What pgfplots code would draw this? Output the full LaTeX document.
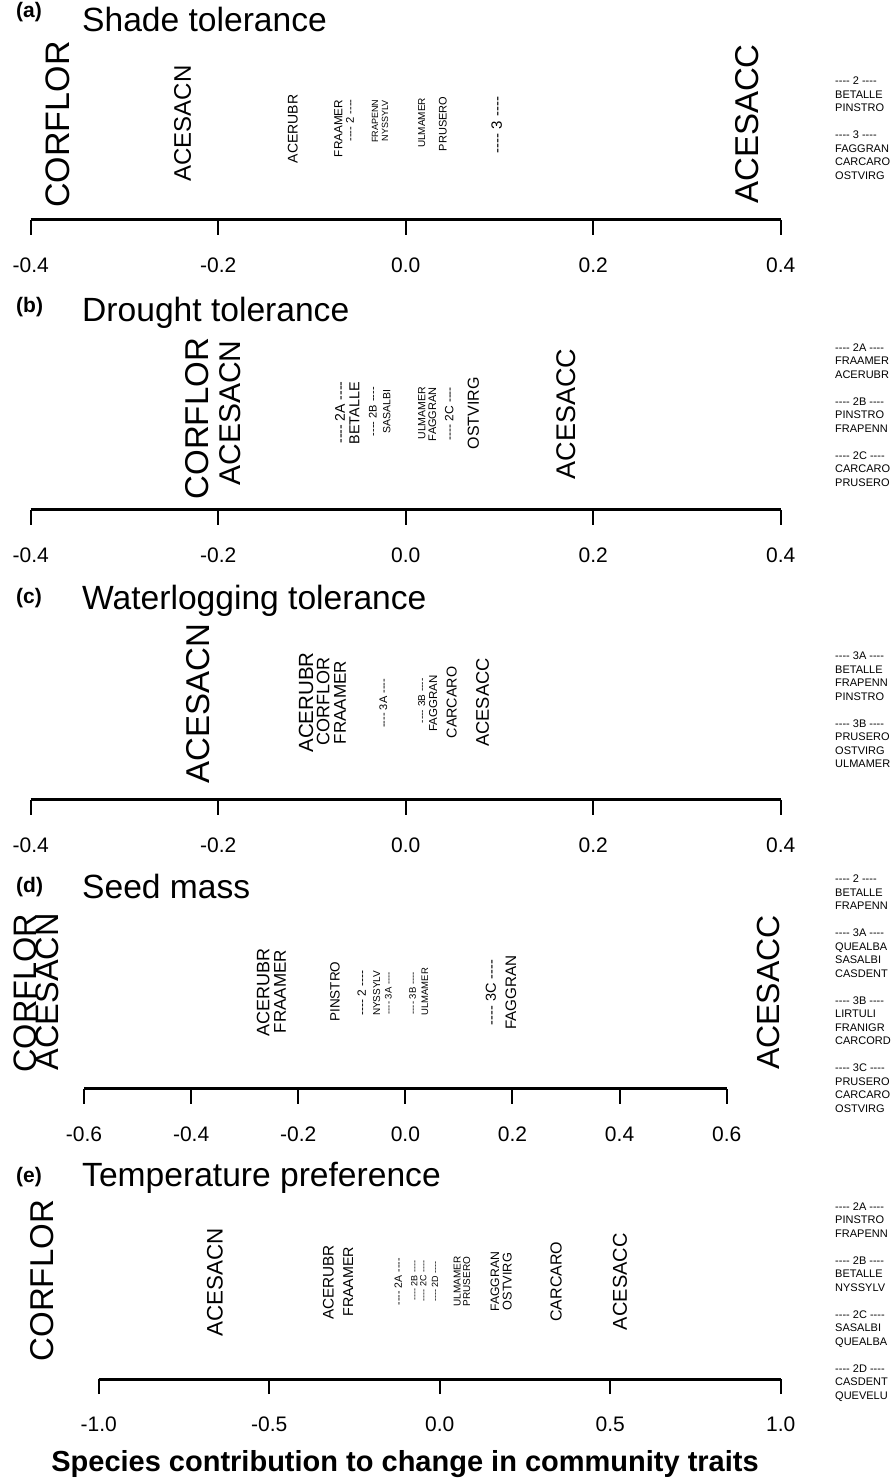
\documentclass[border=0pt]{standalone}
\usepackage{fontspec}
\setmainfont{Liberation Sans}
\usepackage{pgfplots}
\usepackage{pgfplotstable}
\pgfplotsset{compat=1.18}
\newcommand\dsh{-{}-{}-{}-}

% x = contribution, y = vertical centre (pt above axis line), fs = font size
\pgfplotstableread{
x y fs label
-0.3714 95.5 34 CORFLOR
-0.2380 96.5 24 ACESACN
-0.1205 91 14 ACERUBR
-0.0719 91.5 11.7 FRAAMER
-0.0594 99.5 11.2 \dsh~2~\dsh
-0.0327 98.5 9 FRAPENN
-0.0221 99 9 NYSSYLV
0.0171 97 10 ULMAMER
0.0395 96 11 PRUSERO
0.0971 95 15 \dsh~3~\dsh
0.3637 96 33 ACESACC
}\tabA

\pgfplotstableread{
x y fs label
-0.2229 91.3 33 CORFLOR
-0.1874 97 30 ACESACN
-0.0701 97.5 14 \dsh~2A~\dsh
-0.0548 96.7 14.4 BETALLE
-0.0352 98.3 11 \dsh~2B~\dsh
-0.0203 98.3 10.5 SASALBI
0.0171 96.7 10.5 ULMAMER
0.0284 95.8 11 FAGGRAN
0.0465 96 12 \dsh~2C~\dsh
0.0721 96.7 16 OSTVIRG
0.1717 95.8 27 ACESACC
}\tabB

\pgfplotstableread{
x y fs label
-0.2212 96.7 33 ACESACN
-0.1063 97.5 20.5 ACERUBR
-0.0879 98.3 18 CORFLOR
-0.0701 97.5 17 FRAAMER
-0.0239 96.7 11 \dsh~3A~\dsh
0.0171 99.2 10 \dsh~3B~\dsh
0.0294 96.7 11.5 FAGGRAN
0.0491 97.5 14.3 CARCARO
0.0821 97.5 18.3 ACESACC
}\tabC

\pgfplotstableread{
x y fs label
-0.7087 95.7 32.5 CORFLOR
-0.6682 97.3 32.5 ACESACN
-0.2653 96.5 18 ACERUBR
-0.2341 97.3 17 FRAAMER
-0.1314 97.3 13.5 PINSTRO
-0.0816 95.7 12 \dsh~2~\dsh
-0.0536 95.7 10 NYSSYLV
-0.0319 95.7 9.5 \dsh~3A~\dsh
0.0136 95.7 9.5 \dsh~3B~\dsh
0.0366 97.3 9.5 ULMAMER
0.1598 96.5 14.5 \dsh~3C~\dsh
0.1972 96.5 15.2 FAGGRAN
0.6776 96.5 32 ACESACC
}\tabD

\pgfplotstableread{
x y fs label
-1.1672 98.2 33 CORFLOR
-0.6590 96.5 22.4 ACESACN
-0.3267 96.5 15.3 ACERUBR
-0.2680 97.3 14.3 FRAAMER
-0.1214 97.3 10.5 \dsh~2A~\dsh
-0.0745 98.2 9 \dsh~2B~\dsh
-0.0481 98 9 \dsh~2C~\dsh
-0.0138 97.5 9 \dsh~2D~\dsh
0.0516 97.3 10 ULMAMER
0.0792 97.5 10 PRUSERO
0.1622 97.3 12.2 FAGGRAN
0.1982 97.3 12.7 OSTVIRG
0.3411 97.3 16 CARCARO
0.5287 97.3 20 ACESACC
}\tabE

\pgfplotsset{
  panel/.style={
    scale only axis, height=190pt, ymin=0, ymax=190,
    clip=false, anchor=south west,
    axis x line*=bottom, axis y line=none,
    x axis line style={line width=3pt, -},
    tick align=outside, major tick length=15pt,
    xtick style={line width=2pt, black},
    scaled x ticks=false,
    xticklabel style={font=\fontsize{21}{25}\selectfont, anchor=center, yshift=-30pt,
      /pgf/number format/fixed, /pgf/number format/fixed zerofill,
      /pgf/number format/precision=1, /pgf/number format/assume math mode=true},
  },
  lbl/.style={only marks, mark=none, black, nodes near coords,
    point meta=explicit symbolic,
    visualization depends on={\thisrow{fs}\as\fs},
    every node near coord/.append style={scale=\fs/10,
      rotate=90, anchor=center, inner sep=0pt, black},
  },
}

\begin{document}
\begin{tikzpicture}[x=1pt,y=1pt]
\path[use as bounding box] (0,0) rectangle (893,1479);

% (a)
\begin{axis}[panel, at={(30.7pt,1259pt)}, width=750pt,
  xmin=-0.4, xmax=0.4, xtick={-0.4,-0.2,0,0.2,0.4}]
\addplot[lbl] table[x=x, y=y, meta=label]{\tabA};
\end{axis}
% (b)
\begin{axis}[panel, at={(30.7pt,969pt)}, width=750pt,
  xmin=-0.4, xmax=0.4, xtick={-0.4,-0.2,0,0.2,0.4}]
\addplot[lbl] table[x=x, y=y, meta=label]{\tabB};
\end{axis}
% (c)
\begin{axis}[panel, at={(30.7pt,679pt)}, width=750pt,
  xmin=-0.4, xmax=0.4, xtick={-0.4,-0.2,0,0.2,0.4}]
\addplot[lbl] table[x=x, y=y, meta=label]{\tabC};
\end{axis}
% (d)
\begin{axis}[panel, at={(84pt,390pt)}, width=642.7pt,
  xmin=-0.6, xmax=0.6, xtick={-0.6,-0.4,-0.2,0,0.2,0.4,0.6}]
\addplot[lbl] table[x=x, y=y, meta=label]{\tabD};
\end{axis}
% (e)
\begin{axis}[panel, at={(98.7pt,100pt)}, width=682pt,
  xmin=-1, xmax=1, xtick={-1,-0.5,0,0.5,1}]
\addplot[lbl] table[x=x, y=y, meta=label]{\tabE};
\end{axis}

% panel titles
\tikzset{plab/.style={anchor=base west, inner sep=0pt, font=\bfseries\fontsize{21}{25}\selectfont},
         ptit/.style={anchor=base west, inner sep=0pt, font=\fontsize{33.6}{40}\selectfont},
         leg/.style={anchor=west, align=left, inner sep=0pt, font=\fontsize{11}{13.5}\selectfont}}
\node[plab] at (16,1461) {(a)};
\node[ptit] at (82,1447) {Shade tolerance};
\node[plab] at (16,1166) {(b)};
\node[ptit] at (82,1157.5) {Drought tolerance};
\node[plab] at (16,875) {(c)};
\node[ptit] at (82,869) {Waterlogging tolerance};
\node[plab] at (16,586) {(d)};
\node[ptit] at (82,580) {Seed mass};
\node[plab] at (16,296) {(e)};
\node[ptit] at (82,292) {Temperature preference};

% group keys
\node[leg] at (835,1350.6) {\dsh~2~\dsh\\BETALLE\\PINSTRO\\[13.5pt]\dsh~3~\dsh\\FAGGRAN\\CARCARO\\OSTVIRG};
\node[leg] at (835,1064.2) {\dsh~2A~\dsh\\FRAAMER\\ACERUBR\\[13.5pt]\dsh~2B~\dsh\\PINSTRO\\FRAPENN\\[13.5pt]\dsh~2C~\dsh\\CARCARO\\PRUSERO};
\node[leg] at (835,769) {\dsh~3A~\dsh\\BETALLE\\FRAPENN\\PINSTRO\\[13.5pt]\dsh~3B~\dsh\\PRUSERO\\OSTVIRG\\ULMAMER};
\node[leg] at (835,485.5) {\dsh~2~\dsh\\BETALLE\\FRAPENN\\[13.5pt]\dsh~3A~\dsh\\QUEALBA\\SASALBI\\CASDENT\\[13.5pt]\dsh~3B~\dsh\\LIRTULI\\FRANIGR\\CARCORD\\[13.5pt]\dsh~3C~\dsh\\PRUSERO\\CARCARO\\OSTVIRG};
\node[leg] at (835,177) {\dsh~2A~\dsh\\PINSTRO\\FRAPENN\\[13.5pt]\dsh~2B~\dsh\\BETALLE\\NYSSYLV\\[13.5pt]\dsh~2C~\dsh\\SASALBI\\QUEALBA\\[13.5pt]\dsh~2D~\dsh\\CASDENT\\QUEVELU};

% x label
\node[anchor=base, inner sep=0pt, font=\bfseries\fontsize{29}{34}\selectfont] at (405,7) {Species contribution to change in community traits};
\end{tikzpicture}
\end{document}
